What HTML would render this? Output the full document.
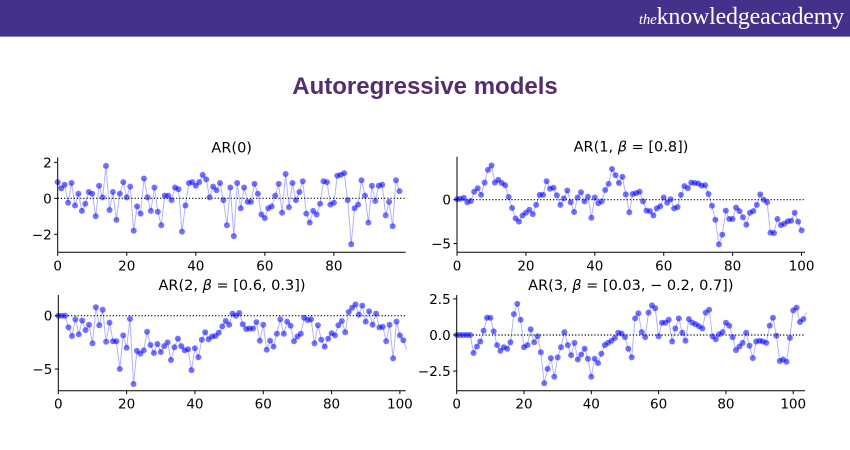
<!DOCTYPE html>
<html><head><meta charset="utf-8"><style>
body{margin:0;width:850px;height:450px;background:#fff;overflow:hidden;font-family:"DejaVu Sans",sans-serif}
#hdr{position:absolute;left:0;top:0;width:850px;height:36px;background:#44318a;border-bottom:1px solid #8a7bc0}
#logo{position:absolute;right:6px;top:4px;color:#fff;font-family:"Liberation Serif",serif;font-size:24px;letter-spacing:-0.2px}
#logo i{font-size:15px}
#title{position:absolute;left:0;width:850px;top:73px;text-align:center;font-family:"Liberation Sans",sans-serif;font-weight:bold;font-size:24px;color:#532d6e}
svg{position:absolute;left:0;top:0}
</style></head><body>
<div id="hdr"><div id="logo"><i>the</i>knowledgeacademy</div></div>
<div id="title">Autoregressive models</div>
<svg id="s" width="850" height="450" xmlns="http://www.w3.org/2000/svg"></svg>
<script>
const P=[
{t:"AR(0)",L:57.7,R:405.7,T:157.3,B:252.3,x0:0,x1:100.8,y0:-3.0,y1:2.28,xt:[0,20,40,60,80],yt:[[2,"2"],[0,"0"],[-2,"−2"]],
d:[0.9,0.55,0.75,-0.25,0.85,-0.4,0.25,-0.7,-0.3,0.35,0.25,-1.0,0.7,0.05,1.8,-0.65,0.35,-1.2,0.25,0.9,0.05,0.65,-1.8,-0.45,-0.85,1.1,0.05,-0.7,0.6,-0.75,-1.5,0.15,0.15,-0.1,0.6,0.5,-1.85,-0.4,0.85,0.9,0.7,0.9,1.3,1.05,0.05,0.65,0.45,0.85,-0.1,-1.5,0.6,-2.1,0.85,-0.55,0.6,-0.2,-0.2,0.8,0.25,-0.9,-1.1,-0.55,-0.45,0.15,0.8,-0.8,1.35,-0.5,0.85,-0.1,0.35,0.95,-0.85,-1.35,-0.7,-0.9,-0.3,0.95,0.9,-0.35,-0.25,1.25,1.3,1.4,-0.1,-2.55,-0.55,-0.35,1.0,0.15,-1.35,0.7,-0.15,0.7,0.75,-0.95,-0.2,-1.55,1.0,0.4]},
{t:"AR(1, <tspan font-style='italic'>β</tspan> = [0.8])",L:457,R:805,T:156.7,B:252.3,x0:0,x1:101,y0:-6.0,y1:4.9,xt:[0,20,40,60,80,100],yt:[[0,"0"],[-5,"−5"]],
d:[0.05,0.1,0.2,-0.3,-0.15,0.9,1.3,0.55,1.95,3.4,3.9,1.95,2.25,1.9,1.65,0.3,-0.95,-2.15,-2.5,-1.8,-1.5,-1.15,-1.65,-0.6,0.55,0.55,2.1,1.25,1.35,0.5,-0.6,0.15,1.05,-0.3,-1.4,0.25,0.85,-0.2,0.35,-2.05,0.25,-0.4,-0.2,1.1,1.8,3.5,2.8,1.9,2.6,0.6,-1.45,0.65,0.75,0.9,-0.2,-1.25,-1.3,-1.8,-1.0,-0.75,0.25,-0.35,0.05,-1.0,-0.85,0.55,1.55,1.3,1.95,1.9,1.85,1.6,1.65,0.65,-0.7,-2.3,-5.1,-4.0,-1.25,-2.2,-2.2,-0.9,-1.3,-2.0,-2.85,-1.5,-1.3,-0.6,0.6,0.0,-0.3,-3.75,-3.8,-2.2,-2.9,-2.75,-2.45,-2.4,-1.5,-2.5,-3.5]},
{t:"AR(2, <tspan font-style='italic'>β</tspan> = [0.6, 0.3])",L:58.3,R:405.7,T:295,B:390.7,x0:0,x1:101.7,y0:-7.03,y1:1.94,xt:[0,20,40,60,80,100],yt:[[0,"0"],[-5,"−5"]],
d:[0,0,0,-1.1,-1.9,-0.35,-1.75,-0.45,-1.35,-0.85,-2.6,0.8,-0.9,0.55,-2.45,-0.65,-2.4,-2.4,-5.0,-1.85,-3.0,-0.3,-6.4,-3.3,-3.55,-3.25,-1.5,-2.75,-3.5,-2.65,-3.4,-2.85,-2.5,-4.15,-2.95,-2.15,-2.85,-3.25,-3.15,-5.1,-3.05,-3.9,-2.25,-1.55,-2.2,-1.95,-1.9,-1.6,-1.0,-0.5,-0.85,0.2,0,0.25,-0.8,-1.25,-1.2,-1.2,-0.6,-2.35,-0.85,-3.2,-2.35,-2.9,-1.7,-0.35,-1.7,-0.55,-0.95,-2.4,-1.95,-1.7,-0.2,-0.4,-0.35,-2.6,-0.9,-2.25,-2.9,-2.15,-1.65,-1.85,-0.9,-0.5,-1.55,0.35,0.75,1.05,0.1,0.95,-0.55,0.4,-0.85,0.2,-1.1,-1.05,-2.4,-0.85,-4.0,-0.55,-1.85,-2.3,-3.2]},
{t:"AR(3, <tspan font-style='italic'>β</tspan> = [0.03, − 0.2, 0.7])",L:456.7,R:805,T:295,B:390.7,x0:0,x1:103.5,y0:-3.86,y1:2.77,xt:[0,20,40,60,80,100],yt:[[2.5,"2.5"],[0,"0.0"],[-2.5,"−2.5"]],
d:[0,0,0,0,0,-1.25,-0.8,-0.45,0.3,1.2,1.2,0.25,-0.7,-1.1,-0.85,-0.95,-0.5,1.45,2.15,1.05,-0.85,-0.7,0.4,-0.5,-0.1,-1.2,-3.35,-2.35,-1.6,-2.9,-1.55,-0.85,0.2,-0.7,-1.4,-0.55,-1.7,-1.35,-0.95,-1.65,-2.9,-1.65,-1.95,-1.3,-0.7,-0.55,-0.4,-0.2,0.15,0.1,-0.15,-0.95,-1.55,1.15,1.5,0.2,-0.15,1.55,2.05,1.85,-0.1,0.85,0.85,1.05,-0.45,0.45,1.15,0.15,-0.4,1.1,0.85,0.75,0.6,0.45,1.55,1.75,-0.1,-0.3,0.05,0.2,0.85,0.65,-0.15,-1.05,-0.8,-0.55,0.15,-0.75,-1.6,-0.45,-0.4,-0.45,-0.55,0.65,1.2,-0.05,-1.8,-1.7,-1.85,-0.2,1.7,1.9,0.9,1.1,1.55]}
];
let h="";
for(const p of P){
 const X=v=>p.L+(v-p.x0)/(p.x1-p.x0)*(p.R-p.L), Y=v=>p.B-(v-p.y0)/(p.y1-p.y0)*(p.B-p.T);
 h+=`<text x="${(p.L+p.R)/2}" y="${p.T-5}" text-anchor="middle" font-size="14.5" fill="#000">${p.t}</text>`;
 h+=`<line x1="${p.L}" x2="${p.R}" y1="${Y(0)}" y2="${Y(0)}" stroke="#000" stroke-width="1.2" stroke-dasharray="1.2,2"/>`;
 const pts=p.d.map((v,i)=>X(i).toFixed(1)+","+Y(v).toFixed(1));
 h+=`<polyline points="${pts.join(" ")}" fill="none" stroke="#0000ff" stroke-opacity="0.3" stroke-width="1"/>`;
 p.d.forEach((v,i)=>{const x=X(i);if(x<=p.R+1)h+=`<circle cx="${x.toFixed(1)}" cy="${Y(v).toFixed(1)}" r="3" fill="#0000ff" fill-opacity="0.55"/>`;});
 h+=`<line x1="${p.L}" x2="${p.L}" y1="${p.T}" y2="${p.B}" stroke="#000" stroke-width="1"/>`;
 h+=`<line x1="${p.L}" x2="${p.R}" y1="${p.B}" y2="${p.B}" stroke="#000" stroke-width="1"/>`;
 for(const t of p.xt){const x=X(t);h+=`<line x1="${x}" x2="${x}" y1="${p.B}" y2="${p.B+3.5}" stroke="#000"/><text x="${x}" y="${p.B+18}" text-anchor="middle" font-size="13.5">${t}</text>`;}
 for(const [v,s] of p.yt){const y=Y(v);h+=`<line x1="${p.L-3.5}" x2="${p.L}" y1="${y}" y2="${y}" stroke="#000"/><text x="${p.L-6}" y="${y+5}" text-anchor="end" font-size="13.5">${s}</text>`;}
}
document.getElementById("s").innerHTML=h;
</script>
</body></html>
